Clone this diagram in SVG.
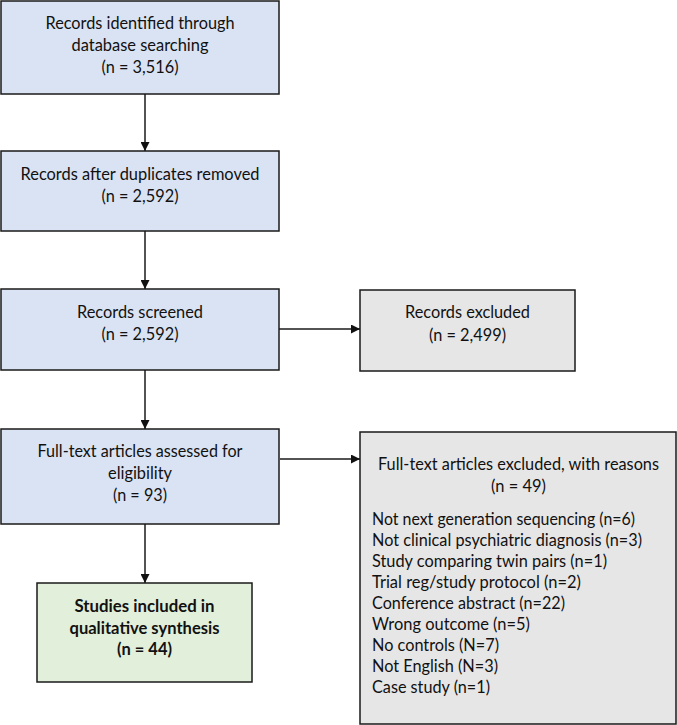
<svg xmlns="http://www.w3.org/2000/svg" width="677" height="725" viewBox="0 0 677 725">
<defs>
<style>
.box{stroke:#1a1a1a;stroke-width:1.5}
.blue{fill:#dae3f3}
.gray{fill:#e6e6e6}
.green{fill:#e2efda}
text{font-family:Lato,"Liberation Sans",sans-serif;font-size:16.5px;fill:#111}
.c{text-anchor:middle}
.b{font-weight:bold}
.conn{stroke:#1a1a1a;stroke-width:1.5;fill:none}
</style>
<marker id="ah" viewBox="0 0 10 10" refX="10" refY="5" markerWidth="9" markerHeight="9" markerUnits="userSpaceOnUse" orient="auto">
<path d="M0,0 L10,5 L0,10 z" fill="#111"/>
</marker>
</defs>
<rect width="677" height="725" fill="#fff"/>
<g id="connectors">
<line class="conn" x1="145" y1="94" x2="145" y2="151" marker-end="url(#ah)"/>
<line class="conn" x1="145" y1="231" x2="145" y2="289" marker-end="url(#ah)"/>
<line class="conn" x1="145" y1="370" x2="145" y2="429" marker-end="url(#ah)"/>
<line class="conn" x1="145" y1="524" x2="145" y2="583" marker-end="url(#ah)"/>
<line class="conn" x1="279" y1="329" x2="360" y2="329" marker-end="url(#ah)"/>
<line class="conn" x1="280" y1="459" x2="360" y2="459" marker-end="url(#ah)"/>
</g>
<g id="identified">
<rect class="box blue" x="1" y="1" width="278" height="93"/>
<text class="c" x="140" y="29" textLength="189" lengthAdjust="spacingAndGlyphs">Records identified through</text>
<text class="c" x="140" y="51" textLength="137" lengthAdjust="spacingAndGlyphs">database searching</text>
<text class="c" x="140" y="73" textLength="77" lengthAdjust="spacingAndGlyphs">(n = 3,516)</text>
</g>
<g id="duplicates">
<rect class="box blue" x="1" y="151" width="278" height="80"/>
<text class="c" x="140" y="180" textLength="239" lengthAdjust="spacingAndGlyphs">Records after duplicates removed</text>
<text class="c" x="140" y="202" textLength="77" lengthAdjust="spacingAndGlyphs">(n = 2,592)</text>
</g>
<g id="screened">
<rect class="box blue" x="1" y="289" width="278" height="81"/>
<text class="c" x="140" y="318" textLength="126" lengthAdjust="spacingAndGlyphs">Records screened</text>
<text class="c" x="140" y="340" textLength="77" lengthAdjust="spacingAndGlyphs">(n = 2,592)</text>
</g>
<g id="excluded">
<rect class="box gray" x="360" y="290" width="215" height="81"/>
<text class="c" x="467.5" y="318" textLength="125" lengthAdjust="spacingAndGlyphs">Records excluded</text>
<text class="c" x="467.5" y="341" textLength="77" lengthAdjust="spacingAndGlyphs">(n = 2,499)</text>
</g>
<g id="fulltext">
<rect class="box blue" x="1" y="429" width="278" height="95"/>
<text class="c" x="140" y="457" textLength="205" lengthAdjust="spacingAndGlyphs">Full-text articles assessed for</text>
<text class="c" x="140" y="479" textLength="64" lengthAdjust="spacingAndGlyphs">eligibility</text>
<text class="c" x="140" y="501" textLength="54" lengthAdjust="spacingAndGlyphs">(n = 93)</text>
</g>
<g id="fulltext-excluded">
<rect class="box gray" x="360" y="432" width="316" height="292"/>
<text class="c" x="518.5" y="470" textLength="281" lengthAdjust="spacingAndGlyphs">Full-text articles excluded, with reasons</text>
<text class="c" x="518.5" y="492" textLength="55" lengthAdjust="spacingAndGlyphs">(n = 49)</text>
<text x="372" y="525" textLength="263" lengthAdjust="spacingAndGlyphs">Not next generation sequencing (n=6)</text>
<text x="372" y="546" textLength="270" lengthAdjust="spacingAndGlyphs">Not clinical psychiatric diagnosis (n=3)</text>
<text x="372" y="567" textLength="235" lengthAdjust="spacingAndGlyphs">Study comparing twin pairs (n=1)</text>
<text x="372" y="588" textLength="209" lengthAdjust="spacingAndGlyphs">Trial reg/study protocol (n=2)</text>
<text x="372" y="609" textLength="193" lengthAdjust="spacingAndGlyphs">Conference abstract (n=22)</text>
<text x="372" y="630" textLength="158" lengthAdjust="spacingAndGlyphs">Wrong outcome (n=5)</text>
<text x="372" y="651" textLength="127" lengthAdjust="spacingAndGlyphs">No controls (N=7)</text>
<text x="372" y="672" textLength="126" lengthAdjust="spacingAndGlyphs">Not English (N=3)</text>
<text x="372" y="693" textLength="118" lengthAdjust="spacingAndGlyphs">Case study (n=1)</text>
</g>
<g id="included">
<rect class="box green" x="37" y="583" width="215" height="99"/>
<text class="c b" x="144.5" y="612" textLength="140" lengthAdjust="spacingAndGlyphs">Studies included in</text>
<text class="c b" x="144.5" y="634" textLength="150" lengthAdjust="spacingAndGlyphs">qualitative synthesis</text>
<text class="c b" x="144.5" y="655" textLength="55" lengthAdjust="spacingAndGlyphs">(n = 44)</text>
</g>
</svg>
